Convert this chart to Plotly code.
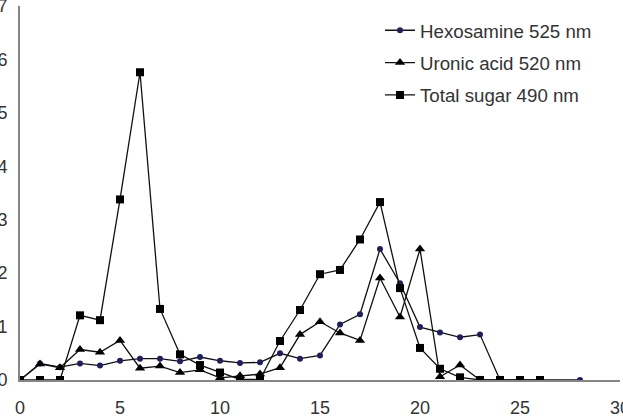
import plotly.graph_objects as go

hex_x = [0, 1, 2, 3, 4, 5, 6, 7, 8, 9, 10, 11, 12, 13, 14, 15, 16, 17, 18, 19, 20, 21, 22, 23, 24, 28]
hex_y = [0, 0.31, 0.24, 0.31, 0.27, 0.36, 0.40, 0.40, 0.35, 0.43, 0.36, 0.32, 0.33, 0.50, 0.40, 0.46, 1.04, 1.23, 2.45, 1.81, 0.99, 0.89, 0.80, 0.85, 0, 0]

uro_x = list(range(0, 25))
uro_y = [0, 0.30, 0.23, 0.57, 0.52, 0.74, 0.22, 0.26, 0.14, 0.19, 0.04, 0.08, 0.11, 0.23, 0.85, 1.09, 0.88, 0.74, 1.91, 1.18, 2.45, 0.06, 0.28, 0, 0]

tot_x = list(range(0, 27))
tot_y = [0, 0, 0, 1.21, 1.12, 3.38, 5.76, 1.33, 0.48, 0.28, 0.14, 0.01, 0.01, 0.73, 1.31, 1.98, 2.06, 2.63, 3.33, 1.72, 0.60, 0.21, 0.05, 0, 0, 0, 0]

names = ["Hexosamine 525 nm", "Uronic acid 520 nm", "Total sugar 490 nm"]
x_ticks = [0, 5, 10, 15, 20, 25, 30]
y_ticks = [0, 1, 2, 3, 4, 5, 6, 7]

fig = go.Figure()
fig.add_trace(go.Scatter(x=hex_x, y=hex_y, name=names[0], mode="lines+markers",
                         line=dict(color="#111111", width=1.3),
                         marker=dict(symbol="circle", size=6, color="#1f1f5c"),
                         legendgroup="a"))
fig.add_trace(go.Scatter(x=uro_x, y=uro_y, name=names[1], mode="lines+markers",
                         line=dict(color="#111111", width=1.3),
                         marker=dict(symbol="triangle-up", size=9, color="#000000"),
                         legendgroup="b"))
fig.add_trace(go.Scatter(x=tot_x, y=tot_y, name=names[2], mode="lines+markers",
                         line=dict(color="#111111", width=1.3),
                         marker=dict(symbol="square", size=8, color="#000000"),
                         legendgroup="c"))

fig.update_layout(
    width=623, height=418,
    margin=dict(l=20, r=3, t=6, b=38),
    plot_bgcolor="white", paper_bgcolor="white",
    font=dict(family="Liberation Sans, Arial, sans-serif", size=18, color="#333333"),
    legend=dict(x=0.6, xanchor="left", y=0.985, yanchor="top",
                font=dict(size=18.7, color="#333333"),
                tracegroupgap=5, traceorder="grouped",
                bgcolor="rgba(0,0,0,0)", itemwidth=30),
    showlegend=True,
)
fig.update_xaxes(range=[0, 30], tickvals=x_ticks, showgrid=False, zeroline=False,
                 showline=True, linecolor="#868686", linewidth=2, ticks="",
                 ticklabelstandoff=10, automargin=False, ticklabeloverflow="allow")
fig.update_yaxes(range=[0, 7], tickvals=y_ticks, showgrid=False, zeroline=False,
                 showline=True, linecolor="#868686", linewidth=2, ticks="",
                 ticklabelstandoff=7, automargin=False, ticklabeloverflow="allow")

fig.write_html("out.html")
